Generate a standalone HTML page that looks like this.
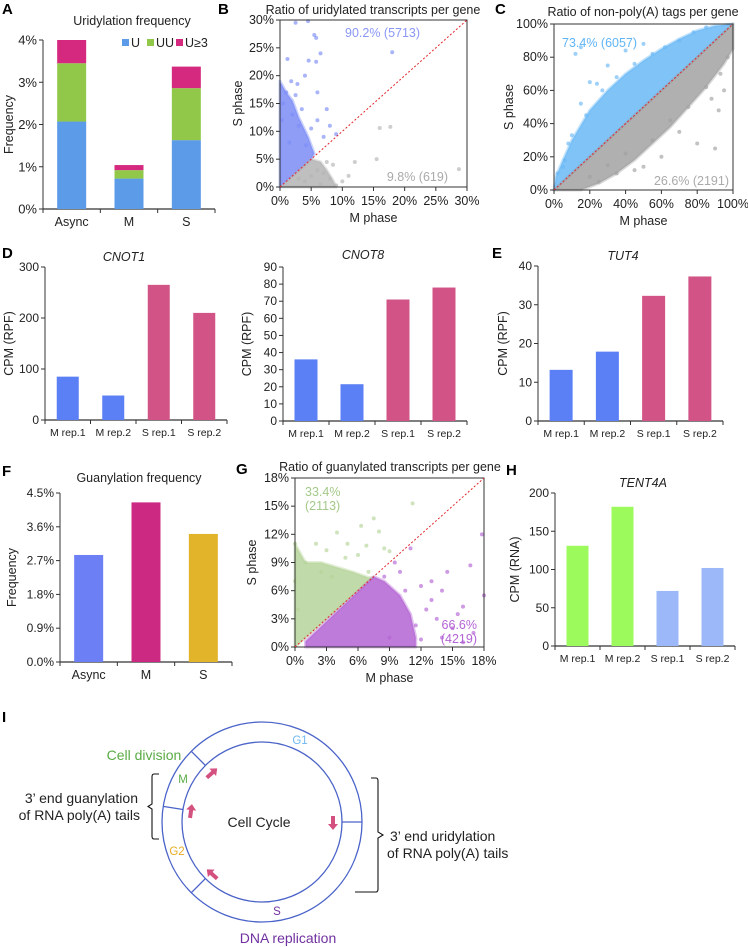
<!DOCTYPE html>
<html><head><meta charset="utf-8"><title>Cell cycle figure</title>
<style>
html,body{margin:0;padding:0;background:#fff;}
svg{display:block;font-family:"Liberation Sans",Arial,sans-serif;}
text{fill:#222;}
.pl{font-weight:bold;font-size:15px;fill:#000;}
</style></head>
<body>
<svg id="fig" width="748" height="947" viewBox="0 0 748 947" xmlns="http://www.w3.org/2000/svg">
<text class="pl" x="2" y="14">A</text>
<text class="pl" x="218" y="14">B</text>
<text class="pl" x="495" y="14">C</text>
<text class="pl" x="2" y="258">D</text>
<text class="pl" x="492" y="258">E</text>
<text class="pl" x="2" y="476">F</text>
<text class="pl" x="236" y="474">G</text>
<text class="pl" x="506" y="475">H</text>
<text class="pl" x="2" y="722">I</text>

<g id="charts"></g>

<g id="cycle">
  <circle cx="262" cy="822" r="100" fill="none" stroke="#4a63c8" stroke-width="1.3"/>
  <circle cx="262" cy="822" r="80" fill="none" stroke="#4a63c8" stroke-width="1.3"/>
  <line x1="191.3" y1="751.3" x2="205.4" y2="765.4" stroke="#4a63c8" stroke-width="1.3"/>
  <line x1="163.2" y1="806.4" x2="183" y2="809.5" stroke="#4a63c8" stroke-width="1.3"/>
  <line x1="191.3" y1="892.7" x2="205.4" y2="878.6" stroke="#4a63c8" stroke-width="1.3"/>
  <line x1="342" y1="822" x2="362" y2="822" stroke="#4a63c8" stroke-width="1.3"/>
  <g fill="#d4507e" stroke="none">
    <path d="M0,-7 L5,-1 L2,-1 L2,7 L-2,7 L-2,-1 L-5,-1 Z" transform="translate(212,773) rotate(48)"/>
    <path d="M0,-7 L5,-1 L2,-1 L2,7 L-2,7 L-2,-1 L-5,-1 Z" transform="translate(191,811) rotate(8)"/>
    <path d="M0,-7 L5,-1 L2,-1 L2,7 L-2,7 L-2,-1 L-5,-1 Z" transform="translate(212,874) rotate(-48)"/>
    <path d="M0,-7 L5,-1 L2,-1 L2,7 L-2,7 L-2,-1 L-5,-1 Z" transform="translate(333,823) rotate(180)"/>
  </g>
  <text x="259" y="827" font-size="14" text-anchor="middle">Cell Cycle</text>
  <text x="144" y="760" font-size="14" text-anchor="middle" style="fill:#5aab46">Cell division</text>
  <text x="183" y="783" font-size="11.5" text-anchor="middle" style="fill:#5aab46">M</text>
  <text x="300" y="744" font-size="11.5" text-anchor="middle" style="fill:#6fb8f2">G1</text>
  <text x="177" y="855" font-size="11.5" text-anchor="middle" style="fill:#e6ad22">G2</text>
  <text x="277" y="915" font-size="11.5" text-anchor="middle" style="fill:#7030a0">S</text>
  <text x="288" y="943" font-size="14" text-anchor="middle" style="fill:#7030a0">DNA replication</text>
  <path d="M159,774 L154,774 Q152,774 152,777 L152,804 L148,806.5 L152,809 L152,836 Q152,839 154,839 L159,839" fill="none" stroke="#111" stroke-width="1.1"/>
  <text x="138" y="803" font-size="14" text-anchor="end">3’ end guanylation</text>
  <text x="140" y="820" font-size="14" text-anchor="end">of RNA poly(A) tails</text>
  <path d="M371,778 L376,778 Q378,778 378,781 L378,832 L383,835 L378,838 L378,889 Q378,892 376,892 L355,892" fill="none" stroke="#111" stroke-width="1.1"/>
  <text x="390" y="841" font-size="14">3’ end uridylation</text>
  <text x="387" y="858" font-size="14">of RNA poly(A) tails</text>
</g>
</svg>
<script>
// ---------- Panel A data ----------
const aCats = ["Async", "M", "S"];
const aU = [2.07, 0.72, 1.63];
const aUU = [1.38, 0.20, 1.23];
const aU3 = [0.55, 0.12, 0.51];
const aTicks = ["0%", "1%", "2%", "3%", "4%"];
// ---------- Panel D/E data ----------
const repCats = ["M rep.1", "M rep.2", "S rep.1", "S rep.2"];
const cnot1Vals = [85, 48, 265, 210];
const cnot1Ticks = ["0", "100", "200", "300"];
const cnot8Vals = [36, 21.5, 71, 78];
const cnot8Ticks = ["0","10","20","30","40","50","60","70","80","90"];
const tut4Vals = [13.2, 17.9, 32.3, 37.3];
const tut4Ticks = ["0", "10", "20", "30", "40"];
// ---------- Panel F data ----------
const fCats = ["Async", "M", "S"];
const fVals = [2.85, 4.25, 3.41];
const fTicks = ["0.0%", "0.9%", "1.8%", "2.7%", "3.6%", "4.5%"];
// ---------- Panel H data ----------
const tentVals = [131, 182, 72, 102];
const tentTicks = ["0", "50", "100", "150", "200"];
// ---------- Panel B scatter data (% M phase, % S phase) ----------
const bUpX = [2.5,4.5,5.5,5.8,6.5,5.8,4.6,1.2,4,2.8,1,2.5,6,7.5,6,3.5,1.8,8,9,5,18,0.5,2,3,1.5,7,4.2,0.3];
const bUpY = [29.5,29.8,27.3,26.8,24,22.5,22.7,23,20,18.5,17,16.5,17,14,12,14,19,11,9.5,10.5,24.2,15,13,11,8,9,7.5,12];
const bDnX = [8.5,12,15.5,16,17.7,28.7,10,7,6,9,5,4,11,7.5,3,6.5,8];
const bDnY = [4,4.5,5,10.6,10.8,3.2,1,2.5,3,0.3,2,1,2,4.5,1.5,0.5,1.5];
const bTicks = ["0%","5%","10%","15%","20%","25%","30%"];
// ---------- Panel C scatter data ----------
const cUpX = [15,12,20,24,15,10,6,2,30,40,50,8,35,45,55,62,70,78,85,27,18,5];
const cUpY = [86,82,65,64,52,33,18,10,75,84,88,28,68,76,82,86,90,95,98,60,45,14];
const cDnX = [35,50,60,70,80,90,92,85,93,97,25,45,75,55,65,88,30,40,95,20];
const cDnY = [10,14,20,35,28,25,48,62,70,80,5,12,50,30,42,55,15,22,60,8];
const cTicks = ["0%","20%","40%","60%","80%","100%"];
// ---------- Panel G scatter data ----------
const gUpX = [11.2,7.5,6.3,4,8,3,1,2,5,6,8.5,0,9,0,0.3,4.8,7,2.5,3.5,6.8];
const gUpY = [15.3,13.7,12.9,12.2,12.3,10.3,9,11,11,9.8,10.5,11,10.2,7,4,9.5,8,8,7.5,10.8];
const gDnX = [17.8,16.7,14.5,13,12,11,16,15,13.5,14,18,12.5,11.5,10.5,9.5,14,16,9,12,13,15.5,10,17,8.5];
const gDnY = [12,8.7,8,7,6.5,10.5,4.3,2,3,1,5.5,4,2.3,6,9,6,0.5,1,0.8,5,3.5,8,1.5,7.5];
const gTicks = ["0%","3%","6%","9%","12%","15%","18%"];

const NS = "http://www.w3.org/2000/svg";
const root = document.getElementById("charts");
function mk(tag, attrs, parent) {
  const el = document.createElementNS(NS, tag);
  for (const k in attrs) el.setAttribute(k, attrs[k]);
  (parent || root).appendChild(el);
  return el;
}
function txt(str, x, y, size, anchor, parent, extra) {
  const t = mk("text", {x: x, y: y, "font-size": size, "text-anchor": anchor || "start", "dominant-baseline": "central"}, parent);
  if (extra) for (const k in extra) t.setAttribute(k, extra[k]);
  t.textContent = str;
  return t;
}

function barChart(o) {
  const g = mk("g", {});
  
  
  const ys = v => o.y0 - (v / o.max) * (o.y0 - o.yTop);
  const n = o.cats.length, bw = (o.xEnd - o.ax) / n;
  const ya = mk("line", {x1: o.ax, y1: o.yTop, x2: o.ax, y2: o.y0, stroke: "#333", "stroke-width": 1}, g);
  
  
  o.ticks.forEach((t, i) => {
    const v = o.max * i / (o.ticks.length - 1);
    const y = ys(v);
    mk("line", {x1: o.ax - 4, y1: y, x2: o.ax, y2: y, stroke: "#333"}, g);
    const tl = txt(t, o.ax - 6, y, o.tickSize || 12, "end", g);
    
    
  });
  const xa = mk("line", {x1: o.ax, y1: o.y0, x2: o.xEnd, y2: o.y0, stroke: "#333", "stroke-width": 1.2}, g);
  
  
  for (let i = 0; i <= n; i++) mk("line", {x1: o.ax + bw * i, y1: o.y0, x2: o.ax + bw * i, y2: o.y0 + 4, stroke: "#333"}, g);
  o.cats.forEach((c, i) => {
    const cx = o.ax + bw * (i + 0.5);
    let base = 0;
    o.series.forEach((s) => {
      const v = s.vals[i];
      const r = mk("rect", {x: cx - o.barW / 2, y: ys(base + v), width: o.barW, height: ys(base) - ys(base + v), fill: s.colors ? s.colors[i] : s.color}, g);
      
      
      base += v;
    });
    const cl = txt(c, cx, o.y0 + o.labOff, o.labSize || 12, "middle", g);
    
    
  });
  const tt = txt(o.title, o.titleX, o.titleY, 12.5, "middle", g, o.italic ? {"font-style": "italic"} : null);
  
  
  const yl = txt(o.ylabel, 0, 0, 12.5, "middle", g, {transform: "translate(" + o.ylx + "," + ((o.y0 + o.yTop) / 2) + ") rotate(-90)"});
  
  
  return g;
}

const gA = barChart({name: "uridylation-frequency-chart", ax: 43, xEnd: 215, y0: 209, yTop: 40, max: 4, ticks: aTicks, cats: aCats, barW: 29,
  series: [{key: "u", vals: aU, color: "#5b9be8"}, {key: "uu", vals: aUU, color: "#92c84a"}, {key: "u3", vals: aU3, color: "#d4297e"}],
  labOff: 13, title: "Uridylation frequency", titleX: 132, titleY: 21, ylabel: "Frequency", ylx: 9, tickSize: 13, labSize: 12.5});
[["U", "#5b9be8", 122], ["UU", "#92c84a", 147], ["U≥3", "#d4297e", 176]].forEach(l => {
  const sq = mk("rect", {x: l[2], y: 39, width: 7, height: 7, fill: l[1]}, gA);
  
  
  const lt = txt(l[0], l[2] + 9, 43, 12.5, "start", gA);
  
  
});

const blue = "#5b7ff5", pink = "#d25486";
const repColors = [blue, blue, pink, pink];
barChart({name: "cnot1-chart", ax: 45, xEnd: 227, y0: 420, yTop: 267, max: 300, ticks: cnot1Ticks, cats: repCats, barW: 22,
  series: [{key: "v", vals: cnot1Vals, colors: repColors}], labOff: 13, labSize: 10.5,
  title: "CNOT1", italic: true, titleX: 124, titleY: 257, ylabel: "CPM (RPF)", ylx: 9});
barChart({name: "cnot8-chart", ax: 283, xEnd: 467, y0: 421, yTop: 267, max: 90, ticks: cnot8Ticks, cats: repCats, barW: 23,
  series: [{key: "v", vals: cnot8Vals, colors: repColors}], labOff: 13, labSize: 10.5,
  title: "CNOT8", italic: true, titleX: 363, titleY: 255, ylabel: "CPM (RPF)", ylx: 247});
barChart({name: "tut4-chart", ax: 538, xEnd: 723, y0: 421, yTop: 266, max: 40, ticks: tut4Ticks, cats: repCats, barW: 23,
  series: [{key: "v", vals: tut4Vals, colors: repColors}], labOff: 13, labSize: 10.5,
  title: "TUT4", italic: true, titleX: 623, titleY: 256, ylabel: "CPM (RPF)", ylx: 503});
barChart({name: "guanylation-frequency-chart", ax: 60, xEnd: 232, y0: 662, yTop: 493, max: 4.5, ticks: fTicks, cats: fCats, barW: 29,
  series: [{key: "v", vals: fVals, colors: ["#6d7ff5", "#cc2a82", "#e2b42a"]}], labOff: 13, labSize: 12.5,
  title: "Guanylation frequency", titleX: 139, titleY: 478, ylabel: "Frequency", ylx: 12});
barChart({name: "tent4a-chart", ax: 555, xEnd: 735, y0: 646, yTop: 493, max: 200, ticks: tentTicks, cats: repCats, barW: 22,
  series: [{key: "v", vals: tentVals, colors: ["#9dfa5c", "#9dfa5c", "#9db8f8", "#9db8f8"]}], labOff: 13, labSize: 10.5,
  title: "TENT4A", italic: true, titleX: 643, titleY: 483, ylabel: "CPM (RNA)", ylx: 515});

function scatter(o) {
  const g = mk("g", {});
  
  
  const xs = v => o.l + (v / o.max) * (o.r - o.l);
  const ys = v => o.b - (v / o.max) * (o.b - o.t);
  [[o.upCloud, o.upColor, 'upper-cloud'], [o.dnCloud, o.dnColor, 'lower-cloud']].forEach(c => {
    const d = c[0].map((p, i) => (i ? "L" : "M") + xs(p[0]).toFixed(1) + "," + ys(p[1]).toFixed(1)).join(" ") + "Z";
    const p = mk("path", {d: d, fill: c[1], "fill-opacity": 0.85, stroke: c[1], "stroke-opacity": 0.4, "stroke-width": 3, "stroke-linejoin": "round"}, g);
    
    
  });
  [[o.upX, o.upY, o.upColor, 'point-upper'], [o.dnX, o.dnY, o.dnColor, 'point-lower']].forEach(s => {
    s[0].forEach((x, i) => {
      const c = mk("circle", {cx: xs(x), cy: ys(s[1][i]), r: 2, fill: s[2], "fill-opacity": 0.65}, g);
      
      
    });
  });
  const fr = mk("rect", {x: o.l, y: o.t, width: o.r - o.l, height: o.b - o.t, fill: "none", stroke: "#333", "stroke-width": 1}, g);
  
  
  const dl = mk("line", {x1: o.l, y1: o.b, x2: o.r, y2: o.t, stroke: "#e0262b", "stroke-width": 1, "stroke-dasharray": "2,2"}, g);
  
  
  o.ticks.forEach((t, i) => {
    const v = o.max * i / (o.ticks.length - 1);
    mk("line", {x1: o.l - 4, y1: ys(v), x2: o.l, y2: ys(v), stroke: "#333"}, g);
    const yl = txt(t, o.l - 6, ys(v), 12.5, "end", g);
    
    
    mk("line", {x1: xs(v), y1: o.b, x2: xs(v), y2: o.b + 4, stroke: "#333"}, g);
    const xl = txt(t, xs(v), o.b + 14, 12.5, "middle", g);
    
    
  });
  const tt = txt(o.title, o.titleX, o.titleY, 12.5, "middle", g);
  
  
  const xt = txt("M phase", (o.l + o.r) / 2, o.b + 31, 12.5, "middle", g);
  
  
  const yt = txt("S phase", 0, 0, 12.5, "middle", g, {transform: "translate(" + o.ylx + "," + ((o.t + o.b) / 2) + ") rotate(-90)"});
  
  
  o.notes.forEach(n => {
    const nt = txt(n[0], n[1], n[2], 12.5, n[3], g, {style: "fill:" + n[4]});
    
    
  });
}

scatter({name: "uridylated-ratio-scatter", l: 280, r: 467, t: 20, b: 187, max: 30, ticks: bTicks,
  upX: bUpX, upY: bUpY, dnX: bDnX, dnY: bDnY, upColor: "#7b8cf6", dnColor: "#b4b4b4",
  upCloud: [[0,0],[0,19],[1,17],[2,15.5],[3,12.5],[4.5,9],[5.5,6],[5,5],[0,0]],
  dnCloud: [[0.2,0],[5,5],[6.5,4.5],[7.5,3],[8.5,1.2],[9,0],[0.2,0]],
  title: "Ratio of uridylated transcripts per gene", titleX: 373, titleY: 10, ylx: 238,
  notes: [["90.2% (5713)", 345, 33, "start", "#8a97f5"], ["9.8% (619)", 448, 177, "end", "#aaaaaa"]]});
scatter({name: "non-polya-ratio-scatter", l: 554, r: 733, t: 24, b: 190, max: 100, ticks: cTicks,
  upX: cUpX, upY: cUpY, dnX: cDnX, dnY: cDnY, upColor: "#6ab8f6", dnColor: "#a2a2a2",
  upCloud: [[0,0],[1,8],[5,18],[10,30],[20,48],[30,60],[40,70],[50,78],[60,85],[70,91],[80,96],[90,99],[100,100],[0,0]],
  dnCloud: [[0,0],[100,100],[100,85],[95,76],[85,62],[75,50],[65,38],[55,28],[45,18],[35,10],[25,4],[15,0],[0,0]],
  title: "Ratio of non-poly(A) tags per gene", titleX: 643, titleY: 12, ylx: 509,
  notes: [["73.4% (6057)", 562, 43, "start", "#5fb4f5"], ["26.6% (2191)", 729, 181, "end", "#aaaaaa"]]});
scatter({name: "guanylated-ratio-scatter", l: 295, r: 484, t: 478, b: 647, max: 18, ticks: gTicks,
  upX: gUpX, upY: gUpY, dnX: gDnX, dnY: gDnY, upColor: "#b6d49a", dnColor: "#b464d4",
  upCloud: [[0,0],[0,11],[1,9],[2.5,9],[4,8.5],[5.5,8],[7,7.4],[7.4,7.4],[0.5,0.5],[0,0]],
  dnCloud: [[1,0.6],[7.5,7.5],[8.5,7],[10,5.5],[11,3.5],[11.5,1],[11.5,0],[1,0],[1,0.6]],
  title: "Ratio of guanylated transcripts per gene", titleX: 390, titleY: 467, ylx: 252,
  notes: [["33.4%", 305, 492, "start", "#a4c98a"], ["(2113)", 305, 506, "start", "#a4c98a"],
          ["66.6%", 477, 625, "end", "#b464d4"], ["(4219)", 477, 639, "end", "#b464d4"]]});
</script>
</body></html>
